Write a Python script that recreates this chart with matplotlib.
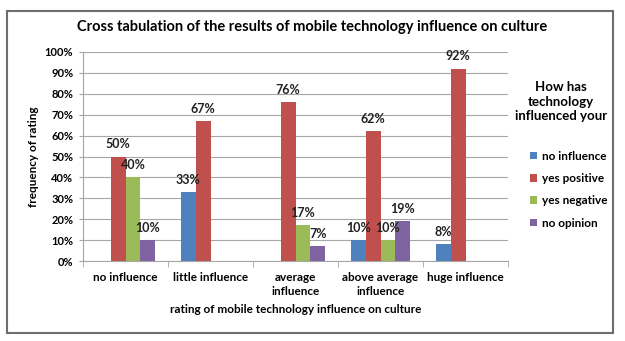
import matplotlib
matplotlib.use("Agg")
import matplotlib.pyplot as plt
import numpy as np
from matplotlib.patches import Rectangle

plt.rcParams['font.family'] = ['Lato', 'DejaVu Sans']

categories = ["no influence", "little influence", "average\ninfluence",
              "above average\ninfluence", "huge influence"]
series_names = ["no influence", "yes positive", "yes negative", "no opinion"]
no_influence = [None, 33, None, 10, 8]
yes_positive = [50, 67, 76, 62, 92]
yes_negative = [40, None, 17, 10, None]
no_opinion = [10, None, 7, 19, None]
colors = ["#4F81BD", "#C0504D", "#9BBB59", "#8064A2"]
y_ticks = list(range(0, 101, 10))

fig = plt.figure(figsize=(6.25, 3.41), dpi=100)
ax = fig.add_axes([83/625, 80/341, 425/625, 209/341])

series = [no_influence, yes_positive, yes_negative, no_opinion]
w = 0.176
x = np.arange(len(categories))
for i, (vals, name, col) in enumerate(zip(series, series_names, colors)):
    xs = [xi + (i - 1.5) * w for xi, v in zip(x, vals) if v is not None]
    hs = [v for v in vals if v is not None]
    ax.bar(xs, hs, width=w, color=col, label=name, zorder=3)
    for xx, hh in zip(xs, hs):
        ax.text(xx, hh + 3, f"{hh}%", ha="center", va="bottom",
                fontsize=9, fontweight="bold", color="#222222", zorder=4)

ax.set_xlim(-0.5, len(categories) - 0.5)
ax.set_ylim(0, 100)
ax.set_yticks(y_ticks)
ax.set_yticklabels([f"{t}%" for t in y_ticks], fontsize=8, fontweight="bold")
ax.yaxis.grid(True, color="#A6A6A6", linewidth=0.8, zorder=0)
ax.set_xticks(x)
ax.set_xticklabels(categories, fontsize=8.5, fontweight="bold", linespacing=1.3)
ax.tick_params(axis="x", length=0, pad=8)
ax.tick_params(axis="y", length=3, color="#A6A6A6", pad=4)
ax.set_xticks(np.arange(-0.5, len(categories), 1), minor=True)
ax.tick_params(axis="x", which="minor", length=4, color="#A6A6A6")
for s in ["top", "right"]:
    ax.spines[s].set_visible(False)
for s in ["left", "bottom"]:
    ax.spines[s].set_color("#A6A6A6")

ax.set_xlabel("rating of mobile technology influence on culture",
              fontsize=8.5, fontweight="bold", labelpad=5)
ax.set_ylabel("frequency of rating", fontsize=8.5, fontweight="bold", labelpad=4)

fig.text(0.5, 1 - 27/341, "Cross tabulation of the results of mobile technology influence on culture",
         ha="center", va="center", fontsize=10.5, fontweight="bold")

fig.text(561/625, 1 - 102/341, "How has\ntechnology\ninfluenced your", ha="center", va="center",
         fontsize=9.5, fontweight="bold", multialignment="center", linespacing=1.25)

leg = fig.legend(loc="upper left", bbox_to_anchor=(524/625, 1 - 145/341),
                 frameon=False, fontsize=8.5, handlelength=0.6, handleheight=0.6,
                 handletextpad=0.4, labelspacing=0.95, borderpad=0)
for t in leg.get_texts():
    t.set_fontweight("bold")

fig.patches.append(Rectangle((7/625, 8/341), 606/625, 322/341, transform=fig.transFigure,
                             fill=False, edgecolor="#6E6E6E", linewidth=1.5))

fig.savefig("out.png", dpi=100, facecolor="white")
